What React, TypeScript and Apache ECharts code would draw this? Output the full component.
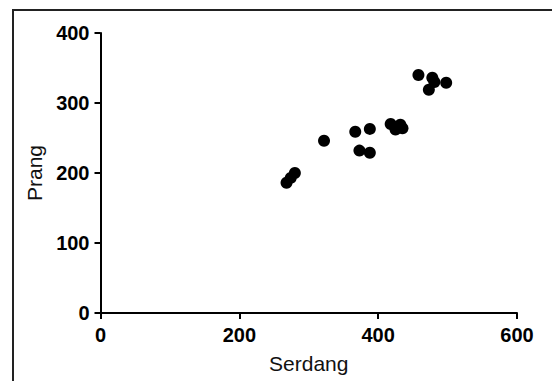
import React, { useEffect, useRef } from "react";
import * as echarts from "echarts";

const serdang = [458, 478, 481, 498, 473, 418, 432, 425, 435, 367, 388, 322, 373, 388, 268, 274, 280];
const prang = [340, 336, 330, 329, 319, 270, 269, 262, 264, 259, 263, 246, 232, 229, 186, 193, 200];
const xTicks = [0, 200, 400, 600];
const yTicks = [0, 100, 200, 300, 400];

export default function App() {
  const ref = useRef<HTMLDivElement>(null);
  useEffect(() => {
    document.body.style.margin = "0";
    const chart = echarts.init(ref.current!, null, { renderer: "svg" });
    const font = "'Liberation Sans', Arial, Helvetica, sans-serif";
    const axisCommon = {
      axisLine: { show: true, onZero: false, lineStyle: { color: "#000", width: 2 } },
      axisTick: { show: true, inside: false, length: 6, lineStyle: { color: "#000", width: 2 } },
      splitLine: { show: false },
      axisLabel: { color: "#000", fontSize: 20, fontWeight: "bold", fontFamily: font },
      nameTextStyle: { color: "#111", fontSize: 21, fontFamily: font },
      nameLocation: "middle" as const,
    };
    chart.setOption({
      animation: false,
      backgroundColor: "#fff",
      grid: { left: 100.5, right: 35, top: 33, bottom: 68 },
      xAxis: {
        type: "value",
        min: xTicks[0],
        max: xTicks[xTicks.length - 1],
        interval: 200,
        name: "Serdang",
        nameGap: 40,
        ...axisCommon,
        axisLabel: { ...axisCommon.axisLabel, margin: 12 },
      },
      yAxis: {
        type: "value",
        min: yTicks[0],
        max: yTicks[yTicks.length - 1],
        interval: 100,
        name: "Prang",
        nameGap: 55,
        ...axisCommon,
        axisLabel: { ...axisCommon.axisLabel, margin: 11 },
      },
      series: [
        {
          type: "scatter",
          symbol: "circle",
          symbolSize: 12,
          itemStyle: { color: "#000", opacity: 1 },
          data: serdang.map((x, i) => [x, prang[i]]),
        },
      ],
      graphic: [
        {
          type: "rect",
          shape: { x: 13, y: 10, width: 700, height: 500 },
          style: { fill: "none", stroke: "#222", lineWidth: 2 },
          silent: true,
        },
      ],
    });
    return () => chart.dispose();
  }, []);
  return <div ref={ref} style={{ width: 552, height: 381 }} />;
}
